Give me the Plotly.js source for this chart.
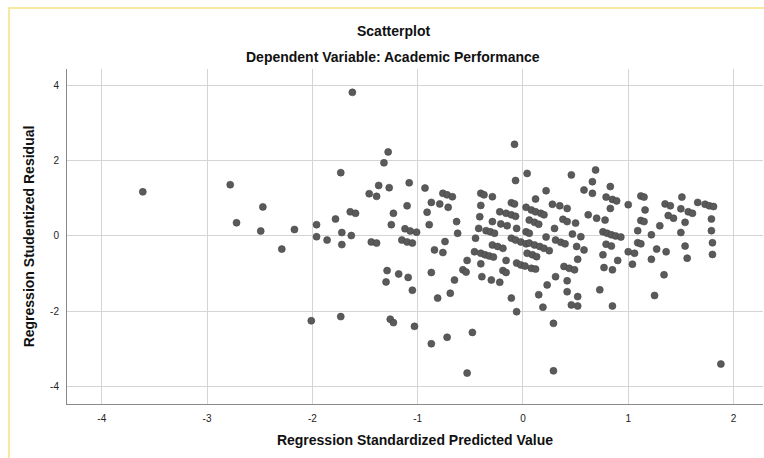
<!DOCTYPE html>
<html>
<head>
<meta charset="utf-8">
<script src="https://cdn.plot.ly/plotly-3.0.1.min.js"></script>
<style>
  html, body { margin: 0; padding: 0; background: #ffffff; }
  #wrap { position: relative; width: 764px; height: 458px; overflow: hidden; }
  #chart { position: absolute; left: 0; top: 0; width: 764px; height: 458px; }
  #frame { position: absolute; left: 8px; top: 7px; width: 800px; height: 500px;
           border-left: 2px solid #f7e9a0; border-top: 2px solid #f7e9a0; pointer-events: none; }
</style>
</head>
<body>
<div id="wrap">
  <div id="chart"></div>
  <div id="frame"></div>
</div>
<script>
// Chart texts
const chartTitle = "Scatterplot";
const chartSubtitle = "Dependent Variable: Academic Performance";
const xTitle = "Regression Standardized Predicted Value";
const yTitle = "Regression Studentized Residual";

// Tick values
const xTicks = [-4, -3, -2, -1, 0, 1, 2];
const yTicks = [-4, -2, 0, 2, 4];

// Regression standardized predicted values (x)
const predicted = [
  -3.61, -2.78, -2.47, -2.72, -2.49, -2.17, -2.29, -1.62, -1.28, -1.32,
  -1.73, -1.37, -1.27, -1.08, -0.93, -1.46, -1.39, -0.76, -0.72, -0.67,
  -0.87, -0.79, -0.71, -1.10, -1.64, -1.59, -1.23, -0.91, -1.78, -1.96,
  -1.25, -0.89, -1.72, -1.12, -1.07, -1.01, -1.96, -1.86, -1.63, -1.72,
  -1.44, -1.39, -1.15, -1.10, -1.05, -0.74, -0.84, -0.76, -1.29, -1.18,
  -1.09, -1.30, -1.05, -0.87, -0.81, -0.69, -2.01, -1.73, -1.26, -1.23,
  -1.03, -0.87, -0.72, -0.48, -0.53, -0.06, -0.11, 0.29, 0.29, 0.15,
  0.19, 0.23, 0.31, 0.42, 0.42, 0.52, 0.46, 0.52, 0.73, -0.65,
  -0.57, -0.54, -0.53, -0.40, -0.39, -0.30, -0.22, -0.19, -0.16, -0.16,
  -0.06, -0.02, 0.02, 0.08, 0.12, -0.46, -0.40, -0.36, -0.32, -0.28,
  -0.29, -0.24, -0.19, -0.11, -0.07, -0.02, 0.03, 0.04, 0.09, 0.13,
  0.06, 0.11, 0.16, 0.20, 0.25, 0.22, 0.30, 0.31, 0.36, 0.40,
  0.47, 0.55, 0.51, 0.58, 0.52, 0.39, 0.44, 0.49, -0.62, -0.63,
  -0.42, -0.35, -0.31, -0.27, -0.45, -0.29, -0.21, -0.15, -0.06, 0.03,
  0.06, 0.06, 0.11, 0.15, -0.08, 0.04, -0.07, 0.46, 0.69, 0.66,
  0.58, 0.66, 0.22, 0.12, 0.28, 0.35, 0.42, 0.38, 0.42, 0.50,
  0.62, 0.70, 0.03, 0.08, 0.12, 0.17, 0.20, -0.11, -0.08, -0.16,
  -0.11, -0.07, -0.22, -0.40, -0.37, -0.29, -0.40, -0.41, 0.83, 0.79,
  0.85, 0.89, 0.83, 1.00, 0.78, 0.76, 0.80, 0.84, 0.88, 0.93,
  1.12, 1.15, 1.16, 1.12, 1.15, 1.09, 1.22, 1.30, 1.35, 1.40,
  1.38, 1.43, 1.51, 1.50, 1.57, 1.61, 1.54, 1.50, 1.66, 1.73,
  1.77, 1.81, 1.79, 1.79, 0.79, 0.84, 0.76, 0.90, 0.77, 0.85,
  0.85, 1.00, 1.06, 1.04, 1.09, 1.12, 1.27, 1.36, 1.22, 1.34,
  1.25, 1.54, 1.56, 1.80, 1.80, 1.88
];

// Regression studentized residuals (y)
const residual = [
  1.17, 1.36, 0.77, 0.35, 0.13, 0.17, -0.35, 3.81, 2.23, 1.94,
  1.68, 1.34, 1.28, 1.41, 1.27, 1.12, 1.05, 1.13, 1.09, 1.04,
  0.89, 0.85, 0.76, 0.80, 0.64, 0.60, 0.60, 0.63, 0.45, 0.30,
  0.30, 0.30, 0.09, 0.19, 0.13, 0.10, -0.02, -0.11, 0.01, -0.23,
  -0.16, -0.19, -0.11, -0.16, -0.19, -0.15, -0.37, -0.44, -0.92, -1.01,
  -1.10, -1.22, -1.44, -0.97, -1.65, -1.52, -2.25, -2.14, -2.21, -2.30,
  -2.40, -2.86, -2.69, -2.56, -3.64, -2.01, -1.65, -2.32, -3.58, -1.56,
  -1.89, -1.30, -1.08, -1.19, -1.48, -1.61, -1.83, -1.86, -1.43, -1.17,
  -0.90, -0.96, -0.65, -0.74, -1.08, -1.17, -1.23, -0.92, -0.97, -0.65,
  -0.72, -0.77, -0.80, -0.86, -0.88, -0.42, -0.46, -0.50, -0.53, -0.56,
  -0.24, -0.28, -0.33, -0.06, -0.11, -0.16, -0.21, -0.46, -0.50, -0.55,
  -0.19, -0.24, -0.28, -0.33, -0.39, -0.03, 0.20, -0.11, -0.17, -0.21,
  0.05, -0.02, -0.28, -0.37, -0.62, -0.81, -0.86, -0.90, 0.07, 0.38,
  0.20, 0.14, 0.11, 0.07, -0.06, 0.38, 0.32, 0.27, 0.20, 0.11,
  0.07, 0.42, 0.36, 0.31, 2.43, 1.66, 1.47, 1.62, 1.75, 1.44,
  1.22, 1.13, 1.20, 0.98, 0.84, 0.80, 0.73, 0.44, 0.38, 0.34,
  0.56, 0.47, 0.76, 0.69, 0.64, 0.60, 0.56, 0.88, 0.85, 0.60,
  0.56, 0.52, 0.64, 1.13, 1.09, 1.04, 0.81, 0.51, 1.31, 1.03,
  0.97, 0.93, 0.73, 0.83, 0.42, 0.11, 0.07, 0.03, 0.00, -0.03,
  1.06, 1.03, 0.69, 0.41, 0.38, 0.14, 0.03, 0.27, 0.85, 0.80,
  0.54, 0.47, 1.03, 0.72, 0.64, 0.60, 0.36, 0.09, 0.89, 0.84,
  0.80, 0.78, 0.45, 0.14, -0.22, -0.27, -0.50, -0.65, -0.84, -0.90,
  -1.86, -0.42, -0.46, -0.75, -0.18, -0.21, -0.35, -0.42, -0.62, -1.03,
  -1.58, -0.27, -0.59, -0.18, -0.49, -3.40
];

const fontFam = '"Liberation Sans", Arial, sans-serif';

const trace = {
  type: 'scatter',
  mode: 'markers',
  x: predicted,
  y: residual,
  marker: { size: 7, color: '#5a5a5a', line: { width: 0.6, color: '#474747' } },
  hoverinfo: 'x+y',
  showlegend: false
};

const layout = {
  width: 764,
  height: 458,
  margin: { l: 67, r: 1, t: 69, b: 54 },
  paper_bgcolor: '#ffffff',
  plot_bgcolor: '#ffffff',
  font: { family: fontFam, color: '#222222', size: 10 },
  xaxis: {
    range: [-4.33, 2.28],
    tickvals: xTicks,
    ticktext: xTicks.map(String),
    showgrid: true,
    gridcolor: '#d4d4d4',
    gridwidth: 1,
    zeroline: false,
    showline: true,
    linecolor: '#8a8a8a',
    linewidth: 1,
    ticks: 'outside',
    ticklen: 5,
    tickcolor: 'rgba(0,0,0,0)',
    tickfont: { family: fontFam, size: 10, color: '#222222' },
    title: { text: xTitle, font: { family: fontFam, size: 14, color: '#111111', weight: 'bold' }, standoff: 12 },
    automargin: false,
    fixedrange: true
  },
  yaxis: {
    range: [-4.46, 4.43],
    tickvals: yTicks,
    ticktext: yTicks.map(String),
    showgrid: true,
    gridcolor: '#d4d4d4',
    gridwidth: 1,
    zeroline: false,
    showline: true,
    linecolor: '#8a8a8a',
    linewidth: 1,
    ticks: 'outside',
    ticklen: 5,
    tickcolor: 'rgba(0,0,0,0)',
    tickfont: { family: fontFam, size: 10, color: '#222222' },
    title: { text: yTitle, font: { family: fontFam, size: 14, color: '#111111', weight: 'bold' }, standoff: 12 },
    automargin: false,
    fixedrange: true
  },
  annotations: [
    { text: chartTitle, xref: 'paper', yref: 'paper', x: 0.469, y: 1.113,
      xanchor: 'center', yanchor: 'middle', showarrow: false,
      font: { family: fontFam, size: 14, color: '#111111', weight: 'bold' } },
    { text: chartSubtitle, xref: 'paper', yref: 'paper', x: 0.469, y: 1.036,
      xanchor: 'center', yanchor: 'middle', showarrow: false,
      font: { family: fontFam, size: 14, color: '#111111', weight: 'bold' } }
  ]
};

Plotly.newPlot('chart', [trace], layout, { displayModeBar: false, staticPlot: true });
</script>
</body>
</html>
